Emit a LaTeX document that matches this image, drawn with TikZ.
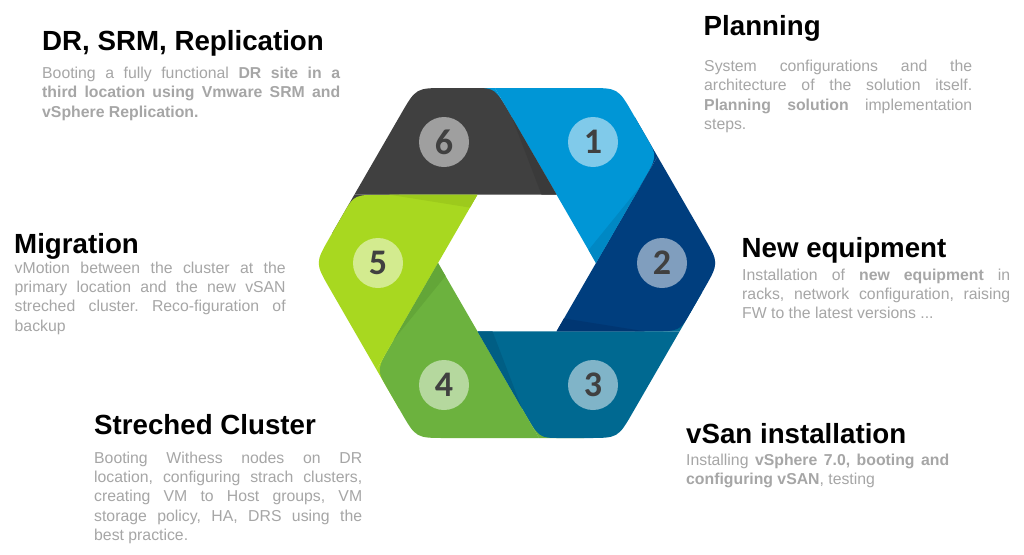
\documentclass[tikz,border=0pt]{standalone}
\usepackage{fontspec}
\setmainfont{Liberation Sans}
\newfontfamily\numfont{Carlito}
\usetikzlibrary{calc}
\hyphenpenalty=10000
\exhyphenpenalty=10000
\frenchspacing
\definecolor{cA}{HTML}{0096D6}
\definecolor{cAd}{HTML}{0088C4}
\definecolor{cB}{HTML}{003E7E}
\definecolor{cBd}{HTML}{003672}
\definecolor{cC}{HTML}{006991}
\definecolor{cCd}{HTML}{005E84}
\definecolor{cD}{HTML}{6CB23E}
\definecolor{cDd}{HTML}{63A638}
\definecolor{cE}{HTML}{A8D820}
\definecolor{cEd}{HTML}{9DCA1C}
\definecolor{cF}{HTML}{404040}
\definecolor{cFd}{HTML}{3A3A3A}
\definecolor{numc}{HTML}{404040}
\definecolor{bodygray}{HTML}{A6A6A6}
\newcommand{\hexseg}[6]{%
  \fill[#1] (#2) -- ($(#3)!32pt!(#2)$) .. controls (#3) .. ($(#3)!21pt!(#4)$)
    -- ($(#4)!30pt!(#3)$) .. controls (#4) .. ($(#4)!30pt!(#5)$) -- (#5) -- (#6) -- cycle;}
\newcommand{\hextail}[4]{%
  \fill[#1] (#2) -- ($(#2)!45pt!(#3)$) -- ($(#2)!45pt!(#4)$) -- cycle;}
\newcommand{\hexwedge}[4]{%
  \fill[#1] (#2) -- ($(#2)!0.72!(#3)$) -- ($(#2)!15pt!(#4)$) -- cycle;}
\tikzset{
  title/.style={font=\bfseries\fontsize{27.7}{33}\selectfont, inner sep=0pt, text=black, anchor=base west},
  body/.style={font=\fontsize{15.8}{19.4}\selectfont, inner sep=0pt, text=bodygray, align=justify, anchor=base west},
  numdot/.style={circle, fill=white, fill opacity=0.5, text opacity=1, minimum size=50pt, inner sep=0pt, text=numc, font=\numfont\bfseries\fontsize{36}{36}\selectfont}
}
\begin{document}
\begin{tikzpicture}[x=1pt,y=-1pt]
\useasboundingbox (0,0) rectangle (1024,554);
\fill[white] (0,0) rectangle (1024,554);
% inner vertices
\coordinate (V0) at (596,263);
\coordinate (V60) at (556.5,194.6);
\coordinate (V120) at (477.5,194.6);
\coordinate (V180) at (438,263);
\coordinate (V240) at (477.5,331.4);
\coordinate (V300) at (556.5,331.4);
% outer vertices
\coordinate (O0) at (719,263);
\coordinate (O60) at (618,88);
\coordinate (O120) at (416,88);
\coordinate (O180) at (315,263);
\coordinate (O240) at (416,438);
\coordinate (O300) at (618,438);
% boundary points on the outer edge
\coordinate (Q65) at (354.4,194.6);
\coordinate (Q54) at (376.5,369.6);
\coordinate (Q43) at (539.1,438);
\coordinate (Q32) at (679.6,331.4);
\coordinate (Q21) at (657.5,156.4);
\coordinate (Q16) at (494.9,88);
% tails (under the heads)
\hextail{cA}{Q16}{O120}{V60}
\hextail{cB}{Q21}{O60}{V0}
\hextail{cC}{Q32}{O0}{V300}
\hextail{cD}{Q43}{O300}{V240}
\hextail{cE}{Q54}{O240}{V180}
\hextail{cF}{Q65}{O180}{V120}
% segments
\hexseg{cA}{V0}{Q21}{O60}{Q16}{V60}
\hexseg{cB}{V300}{Q32}{O0}{Q21}{V0}
\hexseg{cC}{V240}{Q43}{O300}{Q32}{V300}
\hexseg{cD}{V180}{Q54}{O240}{Q43}{V240}
\hexseg{cE}{V120}{Q65}{O180}{Q54}{V180}
\hexseg{cF}{V60}{Q16}{O120}{Q65}{V120}
% shading wedges
\hexwedge{cAd}{V0}{Q21}{V60}
\hexwedge{cBd}{V300}{Q32}{V0}
\hexwedge{cCd}{V240}{Q43}{V300}
\hexwedge{cDd}{V180}{Q54}{V240}
\hexwedge{cEd}{V120}{Q65}{V180}
\hexwedge{cFd}{V60}{Q16}{V120}
% numbers
\node[numdot] (n1) at (593,142) {1};
\node[numdot] (n2) at (662,263) {2};
\node[numdot] (n3) at (593,385) {3};
\node[numdot] (n4) at (444,385) {4};
\node[numdot] (n5) at (378,263) {5};
\node[numdot] (n6) at (444,142) {6};
% texts
\node[title] (t6) at (42,50) {DR, SRM, Replication};
\node[body, text width=298pt] (b6) at (42,78.5) {Booting a fully functional \textbf{DR site in a}\linebreak \textbf{third location using Vmware SRM and}\linebreak \textbf{vSphere Replication.}};
\node[title] (t1) at (703.5,35) {Planning};
\node[body, text width=268pt] (b1) at (704,71.5) {System configurations and the\linebreak architecture of the solution itself.\linebreak \textbf{Planning solution} implementation\linebreak steps.};
\node[title] (t5) at (14,253) {Migration};
\node[body, text width=271pt] (b5) at (14.5,273) {vMotion between the cluster at the\linebreak primary location and the new vSAN\linebreak streched cluster. Reco-figuration of\linebreak backup};
\node[title] (t2) at (741.5,257) {New equipment};
\node[body, text width=268pt] (b2) at (742,280) {Installation of \textbf{new equipment} in\linebreak racks, network configuration, raising\linebreak FW to the latest versions ...};
\node[title] (t4) at (94,434) {Streched Cluster};
\node[body, text width=268pt] (b4) at (94,463) {Booting Withess nodes on DR\linebreak location, configuring strach clusters,\linebreak creating VM to Host groups, VM\linebreak storage policy, HA, DRS using the\linebreak best practice.};
\node[title] (t3) at (686,443.5) {vSan installation};
\node[body, text width=263pt] (b3) at (686,465) {Installing \textbf{vSphere 7.0, booting and}\linebreak \textbf{configuring vSAN}, testing};
\end{tikzpicture}
\end{document}
